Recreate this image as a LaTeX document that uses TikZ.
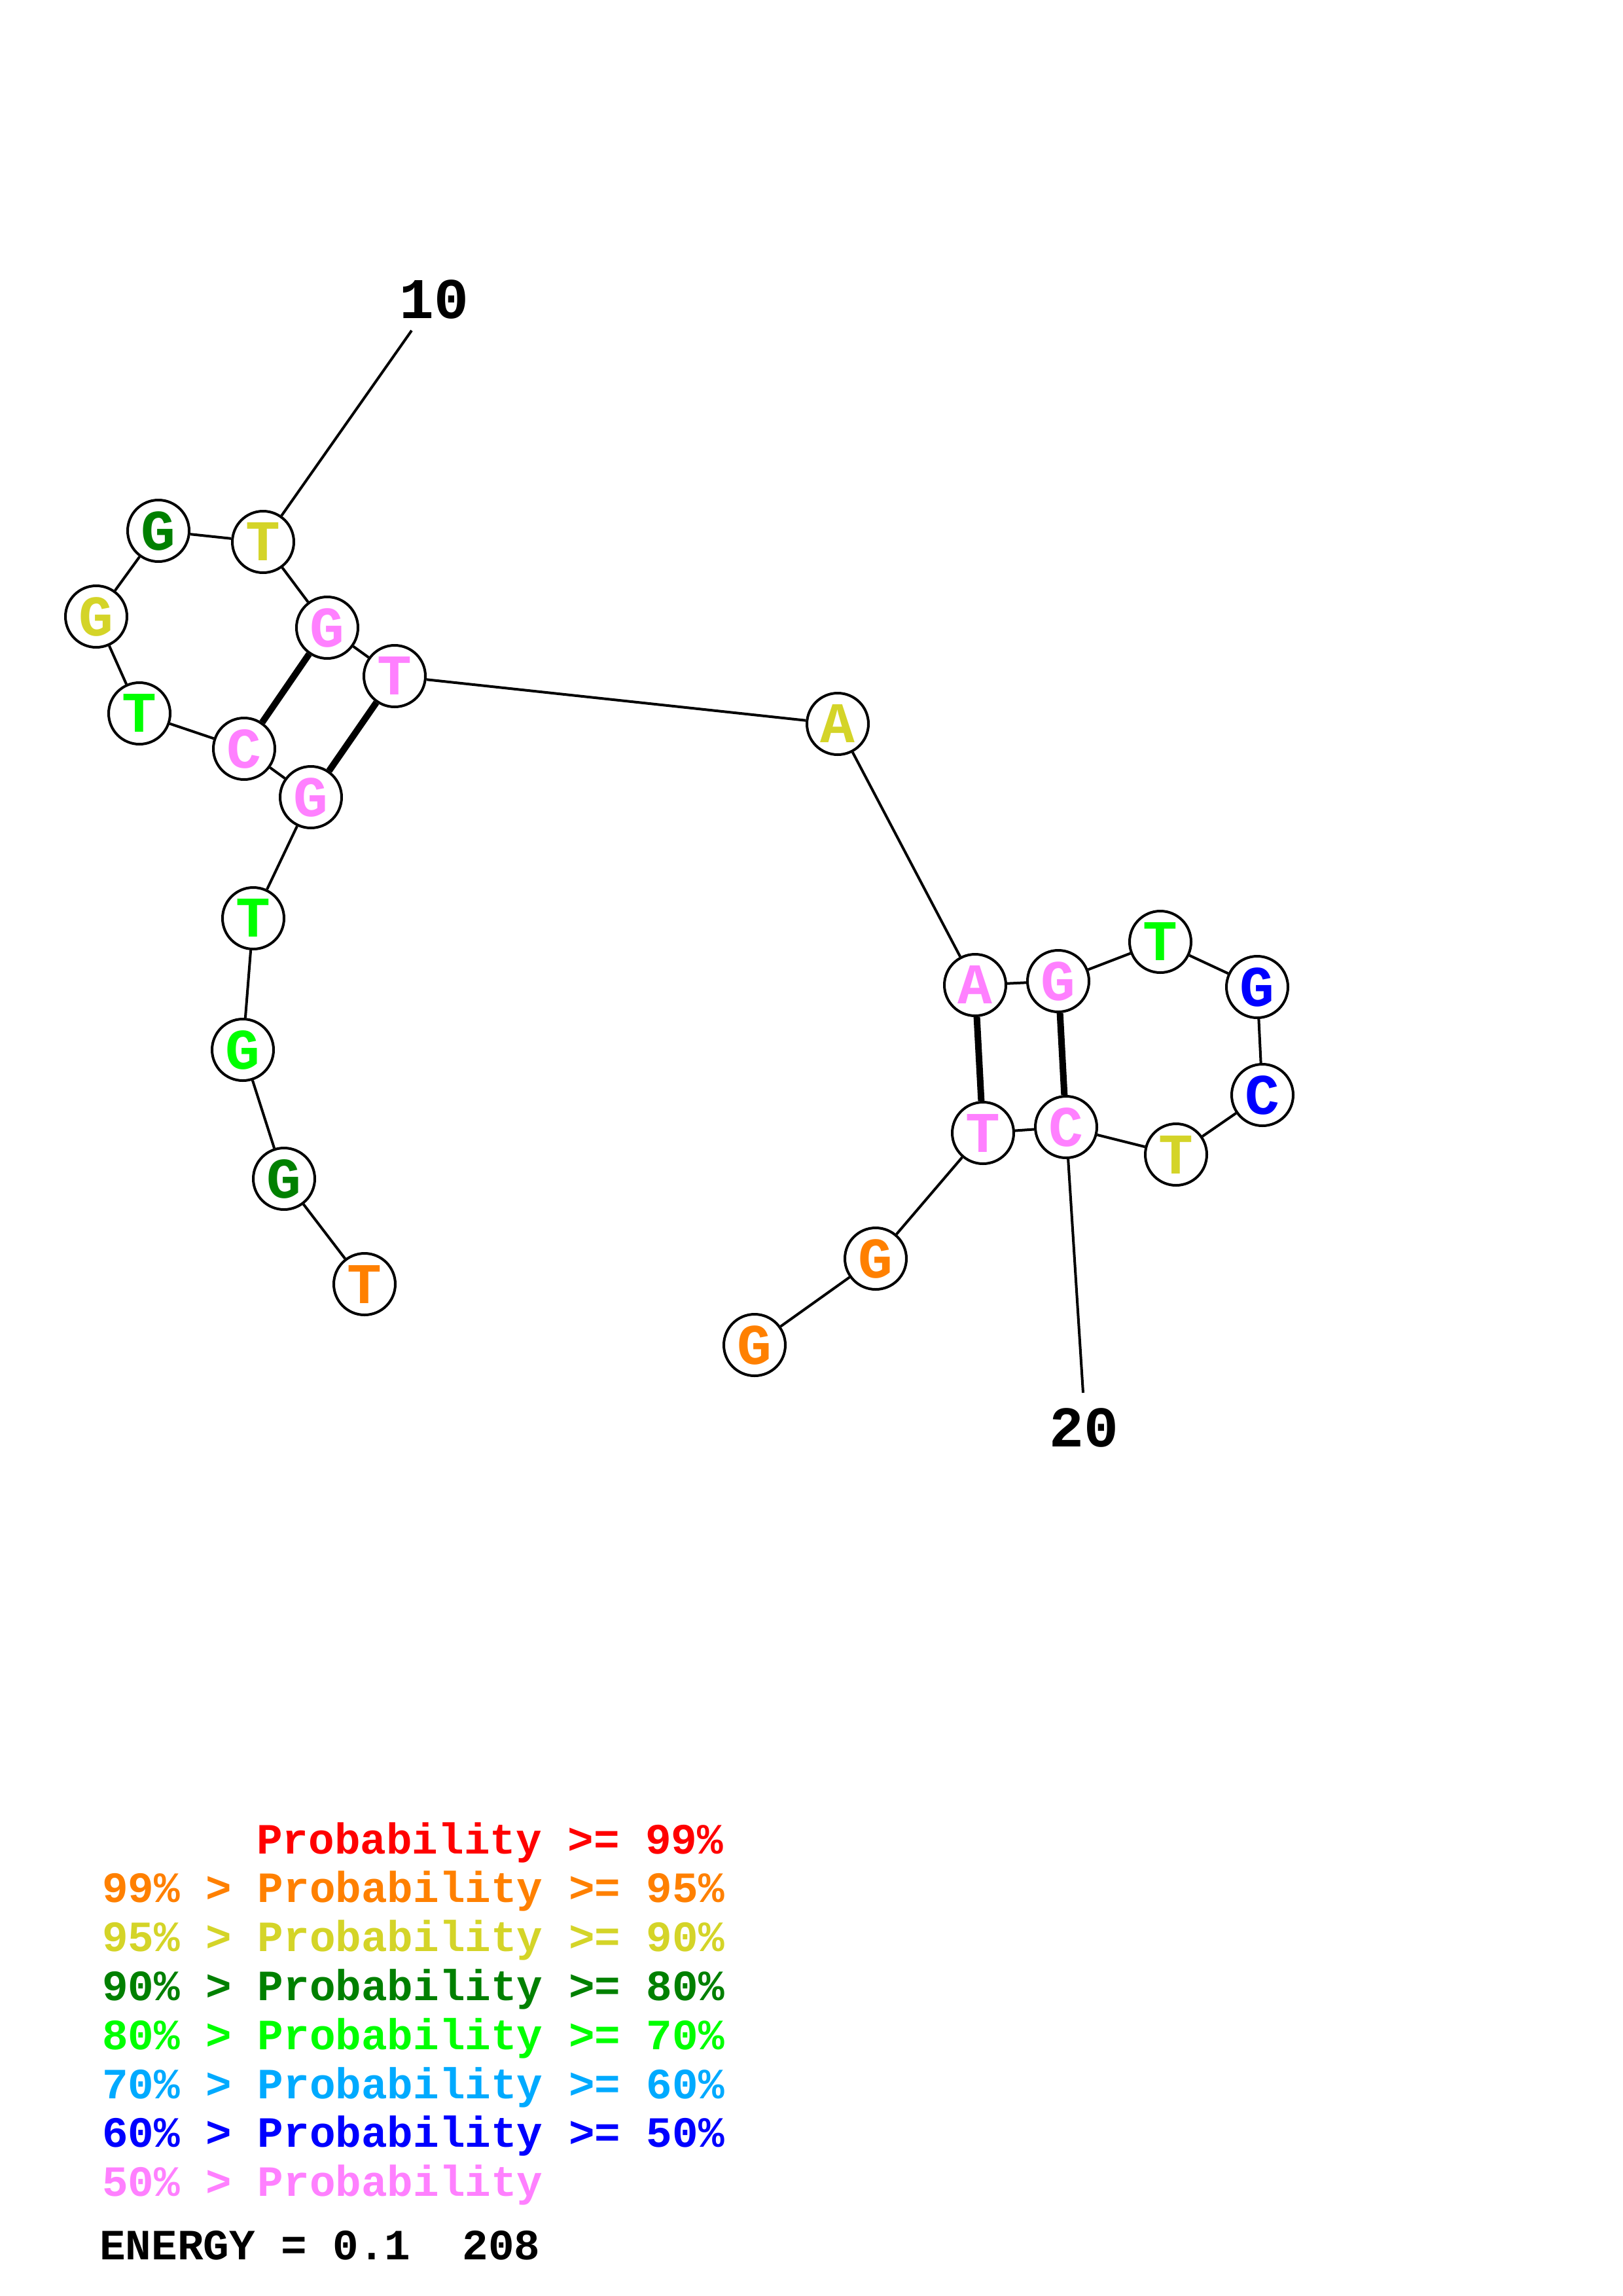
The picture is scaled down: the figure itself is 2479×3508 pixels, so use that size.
\documentclass[tikz,border=0pt]{standalone}
\usepackage{fontspec}
\newfontfamily\cour{Liberation Mono}
\definecolor{cred}{RGB}{255,0,0}
\definecolor{corange}{RGB}{255,128,0}
\definecolor{cyellow}{RGB}{212,212,40}
\definecolor{cdkgreen}{RGB}{0,128,0}
\definecolor{cgreen}{RGB}{0,255,0}
\definecolor{clblue}{RGB}{0,170,255}
\definecolor{cblue}{RGB}{0,0,255}
\definecolor{cpink}{RGB}{255,128,255}
\tikzset{
  nt/.style={circle, draw=black, line width=4pt, fill=white, minimum size=94pt, inner sep=0pt,
    font=\cour\bfseries\fontsize{88}{88}\selectfont},
  bb/.style={line width=4pt},
  bond/.style={line width=10pt},
  numlbl/.style={font=\cour\bfseries\fontsize{88}{88}\selectfont, inner sep=0pt},
  leg/.style={anchor=base west, inner sep=0pt, font=\cour\bfseries\fontsize{66}{66}\selectfont}
}
\begin{document}
\begin{tikzpicture}[x=1pt,y=-1pt]
\useasboundingbox (0,0) rectangle (2479,3508);
% nucleotides
\node[nt, text=corange]  (n1)  at (557,1962) {T};
\node[nt, text=cdkgreen] (n2)  at (434,1801) {G};
\node[nt, text=cgreen]   (n3)  at (371,1604) {G};
\node[nt, text=cgreen]   (n4)  at (387,1403) {T};
\node[nt, text=cpink]    (n5)  at (475,1218) {G};
\node[nt, text=cpink]    (n6)  at (373,1144) {C};
\node[nt, text=cgreen]   (n7)  at (213,1090) {T};
\node[nt, text=cyellow]  (n8)  at (147,942)  {G};
\node[nt, text=cdkgreen] (n9)  at (242,811)  {G};
\node[nt, text=cyellow]  (n10) at (402,828)  {T};
\node[nt, text=cpink]    (n11) at (500,959)  {G};
\node[nt, text=cpink]    (n12) at (603,1033) {T};
\node[nt, text=cyellow]  (n13) at (1280,1106) {A};
\node[nt, text=cpink]    (n14) at (1490,1505) {A};
\node[nt, text=cpink]    (n15) at (1617,1499) {G};
\node[nt, text=cgreen]   (n16) at (1773,1439) {T};
\node[nt, text=cblue]    (n17) at (1921,1508) {G};
\node[nt, text=cblue]    (n18) at (1929,1673) {C};
\node[nt, text=cyellow]  (n19) at (1797,1764) {T};
\node[nt, text=cpink]    (n20) at (1629,1722) {C};
\node[nt, text=cpink]    (n21) at (1502,1731) {T};
\node[nt, text=corange]  (n22) at (1338,1923) {G};
\node[nt, text=corange]  (n23) at (1153,2055) {G};
% backbone
\foreach \a/\b in {n1/n2,n2/n3,n3/n4,n4/n5,n5/n6,n6/n7,n7/n8,n8/n9,n9/n10,n10/n11,n11/n12,n12/n13,n13/n14,n14/n15,n15/n16,n16/n17,n17/n18,n18/n19,n19/n20,n20/n21,n21/n22,n22/n23}
  \draw[bb] (\a) -- (\b);
% pairs
\draw[bond] (n5) -- (n12);
\draw[bond] (n6) -- (n11);
\draw[bond] (n14) -- (n21);
\draw[bond] (n15) -- (n20);
% numbering
\coordinate (e10) at (629,505);
\coordinate (e20) at (1655,2128);
\draw[bb] (n10) -- (e10);
\draw[bb] (n20) -- (e20);
\node[numlbl] (l10) at (663,457) {10};
\node[numlbl] (l20) at (1656,2181) {20};
% legend
\node[leg, text=cred]     (g1) at (392,2832)    {Probability >= 99\%};
\node[leg, text=corange]  (g2) at (156,2906.8)  {99\% > Probability >= 95\%};
\node[leg, text=cyellow]  (g3) at (156,2981.6)  {95\% > Probability >= 90\%};
\node[leg, text=cdkgreen] (g4) at (156,3056.4)  {90\% > Probability >= 80\%};
\node[leg, text=cgreen]   (g5) at (156,3131.2)  {80\% > Probability >= 70\%};
\node[leg, text=clblue]   (g6) at (156,3206)    {70\% > Probability >= 60\%};
\node[leg, text=cblue]    (g7) at (156,3280.8)  {60\% > Probability >= 50\%};
\node[leg, text=cpink]    (g8) at (156,3355.6)  {50\% > Probability};
\node[leg, text=black]    (g9) at (152,3452.6)  {ENERGY = 0.1\ \ 208};
\end{tikzpicture}
\end{document}
